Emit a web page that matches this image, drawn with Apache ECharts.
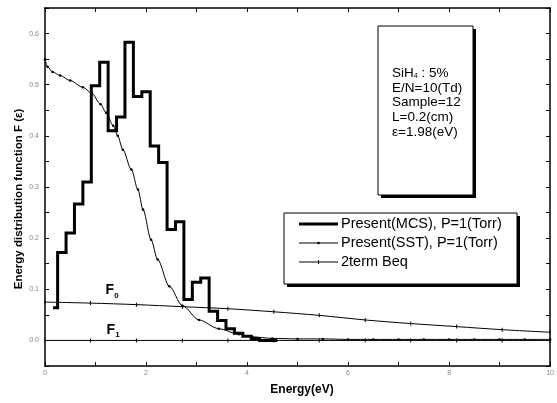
<!DOCTYPE html>
<html><head><meta charset="utf-8">
<script src="https://cdn.jsdelivr.net/npm/echarts@6/dist/echarts.min.js"></script>
<style>html,body{margin:0;padding:0;background:#fff}#c{width:557px;height:403px}</style>
</head><body><div id="c"></div>
<script>
// MCS histogram: bin left edges and values
const mcsX = [0.16, 0.25, 0.417, 0.583, 0.75, 0.917, 1.083, 1.25, 1.417, 1.583, 1.75, 1.917, 2.083, 2.25, 2.417, 2.583, 2.75, 2.917, 3.083, 3.25, 3.417, 3.583, 3.75, 3.917, 4.083, 4.25, 4.6];
const mcsY = [0.064, 0.172, 0.21, 0.267, 0.31, 0.498, 0.544, 0.41, 0.437, 0.583, 0.477, 0.486, 0.38, 0.348, 0.217, 0.232, 0.08, 0.114, 0.122, 0.057, 0.039, 0.023, 0.014, 0.008, 0.004, 0.0, 0.0];
// SST curve
const sstX = [0, 0.05, 0.15, 0.3, 0.5, 0.75, 0.92, 1.1, 1.21, 1.35, 1.44, 1.54, 1.71, 1.84, 1.94, 2.1, 2.23, 2.46, 2.72, 3.05, 3.44, 3.84, 4.1, 4.5, 5, 5.5, 6, 6.5, 7, 7.5, 8, 8.5, 9, 9.5, 10];
const sstY = [0.55, 0.535, 0.525, 0.518, 0.508, 0.495, 0.484, 0.462, 0.445, 0.42, 0.40, 0.373, 0.334, 0.295, 0.256, 0.197, 0.158, 0.106, 0.068, 0.04, 0.023, 0.012, 0.007, 0.004, 0.003, 0.003, 0.002, 0.002, 0.002, 0.002, 0.002, 0.002, 0.002, 0.002, 0.002];
// 2-term Boltzmann equation F0, F1
const fX = [0, 0.9, 1.81, 2.72, 3.62, 4.53, 5.43, 6.34, 7.24, 8.15, 9.05, 10];
const f0Y = [0.075, 0.073, 0.07, 0.066, 0.062, 0.056, 0.049, 0.04, 0.033, 0.027, 0.021, 0.016];
const f1Y = [0, 0, 0, 0, 0, 0, 0, 0, 0, 0, 0, 0];
const xTicks = ['0', '2', '4', '6', '8', '10'];
const yTicks = ['0.0', '0.1', '0.2', '0.3', '0.4', '0.5', '0.6'];
const legendNames = ['Present(MCS), P=1(Torr)', 'Present(SST), P=1(Torr)', '2term Beq'];
const infoLines = ['{a|SiH}{s|4}{a| : 5%}', '{a|E/N=10(Td)}', '{a|Sample=12}', '{a|L=0.2(cm)}', '{a|ε=1.98(eV)}'];
const xTitle = 'Energy(eV)';
const yTitle = 'Energy distribution function F (ε)';
const f0Label = [1.2, 0.098];
const f1Label = [1.22, 0.021];

const zip = (xs, ys) => xs.map((x, i) => [x, ys[i]]);
const FONT = 'Liberation Sans, Arial, sans-serif';
const chart = echarts.init(document.getElementById('c'), null, {renderer: 'canvas'});
const axisCommon = {
  axisLine: {show: true, onZero: false, lineStyle: {color: '#000', width: 1.5}},
  axisTick: {show: true, inside: true, length: 4, lineStyle: {color: '#000', width: 1}},
  splitLine: {show: false}
};
const option = {
  backgroundColor: '#fff',
  animation: false,
  grid: {left: 45, right: 4, top: 8, bottom: 37, containLabel: false},
  xAxis: [
    Object.assign({}, axisCommon, {
      type: 'value', min: 0, max: 10, interval: 1, position: 'bottom',
      axisLabel: {show: true, margin: 4, fontSize: 7, color: '#888', fontFamily: FONT,
        formatter: v => xTicks.includes(String(v)) ? String(v) : ''}
    }),
    Object.assign({}, axisCommon, {
      type: 'value', min: 0, max: 10, interval: 1, position: 'top', axisLabel: {show: false}
    })
  ],
  yAxis: [
    Object.assign({}, axisCommon, {
      type: 'value', min: -0.05, max: 0.65, interval: 0.05, position: 'left',
      axisLabel: {show: true, margin: 6, fontSize: 7, color: '#888', fontFamily: FONT,
        formatter: v => yTicks.find(t => Math.abs(parseFloat(t) - v) < 1e-6) || ''}
    }),
    Object.assign({}, axisCommon, {
      type: 'value', min: -0.05, max: 0.65, interval: 0.05, position: 'right', axisLabel: {show: false}
    })
  ],
  series: [
    {name: legendNames[2], type: 'line', data: zip(fX, f0Y), smooth: 0.3, showAllSymbol: true,
     symbol: 'rect', symbolSize: [1, 4], itemStyle: {color: '#000'}, lineStyle: {color: '#000', width: 1}, z: 2},
    {name: legendNames[2], type: 'line', data: zip(fX, f1Y), showAllSymbol: true,
     symbol: 'rect', symbolSize: [1, 4], itemStyle: {color: '#000'}, lineStyle: {color: '#000', width: 1}, z: 2},
    {name: legendNames[1], type: 'line', data: zip(sstX, sstY), smooth: 0.3, smoothMonotone: 'x', showAllSymbol: true,
     symbol: 'circle', symbolSize: 2.5, itemStyle: {color: '#000'}, lineStyle: {color: '#000', width: 1}, z: 3},
    {name: legendNames[0], type: 'line', data: zip(mcsX, mcsY), step: 'end',
     symbol: 'none', itemStyle: {color: '#000'}, lineStyle: {color: '#000', width: 3, join: 'miter'}, z: 4}
  ]
};
chart.setOption(option);

const p0 = chart.convertToPixel({xAxisIndex: 0, yAxisIndex: 0}, f0Label);
const p1 = chart.convertToPixel({xAxisIndex: 0, yAxisIndex: 0}, f1Label);
const richF = {f: {fontFamily: FONT, fontSize: 14, fontWeight: 'bold', fill: '#000'},
               s: {fontFamily: FONT, fontSize: 8, fontWeight: 'bold', fill: '#000', padding: [10, 0, 0, 0]}};
const richInfo = {a: {fontFamily: FONT, fontSize: 13.5, fill: '#000', lineHeight: 15},
                  s: {fontFamily: FONT, fontSize: 7, fill: '#000', padding: [7, 0, 0, 0]}};
const graphics = [
  {type: 'rect', shape: {x: 381, y: 29, width: 95, height: 169}, style: {fill: '#000'}, z: 5},
  {type: 'rect', shape: {x: 378, y: 26, width: 95, height: 169}, style: {fill: '#fff', stroke: '#000', lineWidth: 1}, z: 6},
  {type: 'rect', shape: {x: 287, y: 216, width: 233, height: 71}, style: {fill: '#000'}, z: 5},
  {type: 'rect', shape: {x: 284, y: 213, width: 233, height: 71}, style: {fill: '#fff', stroke: '#000', lineWidth: 1}, z: 6},
  {type: 'text', x: p0[0], y: p0[1], style: {text: '{f|F}{s|0}', rich: richF, verticalAlign: 'middle'}, z: 7},
  {type: 'text', x: p1[0], y: p1[1], style: {text: '{f|F}{s|1}', rich: richF, verticalAlign: 'middle'}, z: 7},
  {type: 'text', x: 302, y: 390, style: {text: xTitle, fontFamily: FONT, fontSize: 12, fontWeight: 'bold', fill: '#000', align: 'center', verticalAlign: 'middle'}, z: 7},
  {type: 'text', x: 19, y: 199, rotation: Math.PI / 2, style: {text: yTitle, fontFamily: FONT, fontSize: 11.5, fontWeight: 'bold', fill: '#000', align: 'center', verticalAlign: 'middle'}, z: 7}
];
infoLines.forEach((t, i) => {
  graphics.push({type: 'text', x: 392, y: 73 + i * 14.8, style: {text: t, rich: richInfo, verticalAlign: 'middle'}, z: 7});
});
// legend drawn manually
const legRows = [224, 243, 262];
const legWidths = [3, 1, 1];
legendNames.forEach((n, i) => {
  const y = legRows[i];
  graphics.push({type: 'line', shape: {x1: 299, y1: y, x2: 338, y2: y}, style: {stroke: '#000', lineWidth: legWidths[i]}, z: 7});
  if (i === 1) graphics.push({type: 'circle', shape: {cx: 318.5, cy: y, r: 1.3}, style: {fill: '#000'}, z: 7});
  if (i === 2) graphics.push({type: 'line', shape: {x1: 318.5, y1: y - 2, x2: 318.5, y2: y + 2}, style: {stroke: '#000', lineWidth: 1}, z: 7});
  graphics.push({type: 'text', x: 341, y: y, style: {text: n, fontFamily: FONT, fontSize: 14.5, fill: '#000', verticalAlign: 'middle'}, z: 7});
});
chart.setOption({graphic: graphics});
</script></body></html>
